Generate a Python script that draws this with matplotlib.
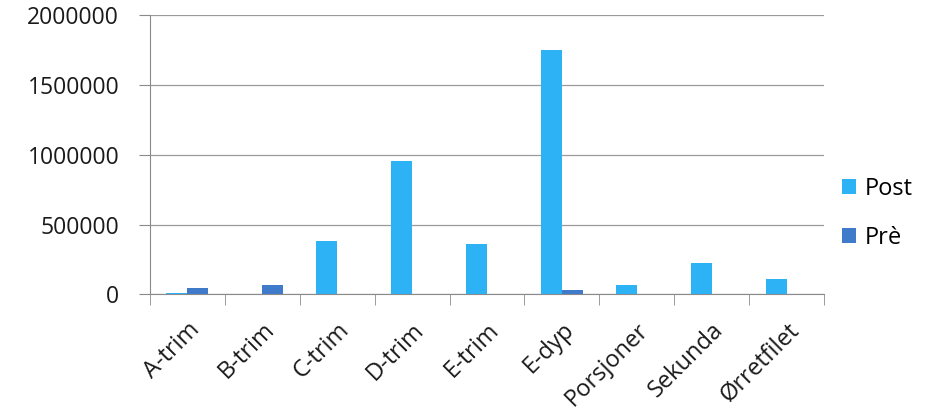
import numpy as np
import matplotlib.pyplot as plt

categories = ['A-trim', 'B-trim', 'C-trim', 'D-trim', 'E-trim', 'E-dyp',
              'Porsjoner', 'Sekunda', 'Ørretfilet']
post = [10000, 0, 384000, 957000, 362000, 1754000, 63000, 222000, 106000]
pre = [46000, 63000, 0, 0, 0, 34000, 0, 0, 0]
yticks = [0, 500000, 1000000, 1500000, 2000000]

plt.rcParams['font.family'] = ['Open Sans', 'DejaVu Sans']

fig = plt.figure(figsize=(9.42, 4.18), dpi=100)
ax = fig.add_axes([0.159, 0.296, 0.716, 0.667])

x = np.arange(len(categories))
w = 0.28
ax.bar(x - w / 2, post, w, color='#2db2f6', label='Post', zorder=3)
ax.bar(x + w / 2, pre, w, color='#3f7acb', label='Prè', zorder=3)

ax.set_xlim(-0.5, len(categories) - 0.5)
ax.set_ylim(0, 2000000)
ax.set_yticks(yticks)
ax.set_yticklabels([str(v) for v in yticks], fontsize=16.5, color='#1a1a1a')
ax.yaxis.grid(True, color='#9a9a9a', linewidth=0.9, zorder=0)

ax.set_xticks(x)
ax.set_xticklabels(categories, rotation=45, ha='right', rotation_mode='anchor',
                   fontsize=17, color='#1a1a1a')
ax.set_xticks(np.arange(len(categories) + 1) - 0.5, minor=True)
ax.tick_params(axis='x', which='major', length=0, pad=17)
ax.tick_params(axis='x', which='minor', length=8, color='#8a8a8a')
ax.tick_params(axis='y', length=8, color='#8a8a8a', pad=14)

for s in ['top', 'right']:
    ax.spines[s].set_visible(False)
ax.spines['left'].set_color('#8a8a8a')
ax.spines['bottom'].set_color('#8a8a8a')

ax.legend(loc='center left', bbox_to_anchor=(0.995, 0.29), frameon=False,
          fontsize=17, handlelength=0.6, handleheight=0.6, handletextpad=0.35,
          labelspacing=1.05)

fig.savefig('out.png', dpi=100)
